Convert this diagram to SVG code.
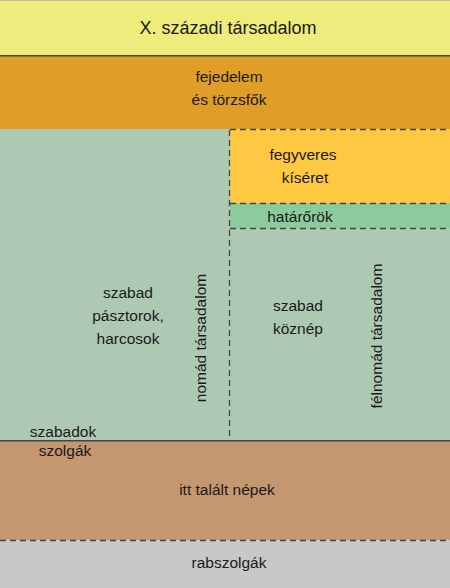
<svg xmlns="http://www.w3.org/2000/svg" width="450" height="588" viewBox="0 0 450 588">
<style>
text{font-family:"Liberation Sans",Arial,sans-serif;font-size:15.5px;fill:#1a1a1a;text-anchor:middle}
.t{font-size:18px}
.d{stroke:#444;stroke-width:1.3;stroke-dasharray:6,4;fill:none}
.s{stroke:#3c4848;stroke-width:1.5;fill:none}
</style>
<g id="title"><rect x="0" y="0" width="450" height="56" fill="#eeec7c"/><line x1="0" y1="0.5" x2="450" y2="0.5" stroke="#bbb"/><text class="t" x="228" y="34">X. századi társadalom</text></g>
<g id="fejedelem"><rect x="0" y="56" width="450" height="73" fill="#e09e28"/><text x="229" y="82">fejedelem</text><text x="229" y="105">és törzsfők</text></g>
<g id="nomad"><rect x="0" y="129" width="230" height="312" fill="#adc9b4"/><text x="128" y="298">szabad</text><text x="128" y="321">pásztorok,</text><text x="128" y="344">harcosok</text><text transform="translate(206,338) rotate(-90)">nomád társadalom</text><text x="63" y="437">szabadok</text></g>
<g id="kiseret"><rect x="230" y="129" width="220" height="74" fill="#ffc842"/><text x="303" y="160">fegyveres</text><text x="305" y="183">kíséret</text></g>
<g id="hatarorok"><rect x="230" y="203" width="220" height="25" fill="#8ccc9c"/><text x="300" y="222">határőrök</text></g>
<g id="koznep"><rect x="230" y="228" width="220" height="213" fill="#adc9b4"/><text x="298" y="311">szabad</text><text x="298" y="334">köznép</text><text transform="translate(382,336) rotate(-90)">félnomád társadalom</text></g>
<g id="nepek"><rect x="0" y="441" width="450" height="99" fill="#c49770"/><text x="65" y="456">szolgák</text><text x="227" y="495">itt talált népek</text></g>
<g id="rabszolgak"><rect x="0" y="540" width="450" height="48" fill="#c8c8c8"/><text x="229" y="568">rabszolgák</text></g>
<g id="connectors">
<line class="s" x1="0" y1="55.8" x2="450" y2="55.8"/>
<line class="d" x1="230" y1="129.5" x2="450" y2="129.5"/>
<line class="d" x1="229.5" y1="130" x2="229.5" y2="440"/>
<line class="d" x1="230" y1="203.5" x2="450" y2="203.5"/>
<line class="d" x1="230" y1="228.5" x2="450" y2="228.5"/>
<line class="s" x1="0" y1="440.8" x2="450" y2="440.8"/>
<line class="d" x1="0" y1="540.5" x2="450" y2="540.5"/>
</g>
</svg>
